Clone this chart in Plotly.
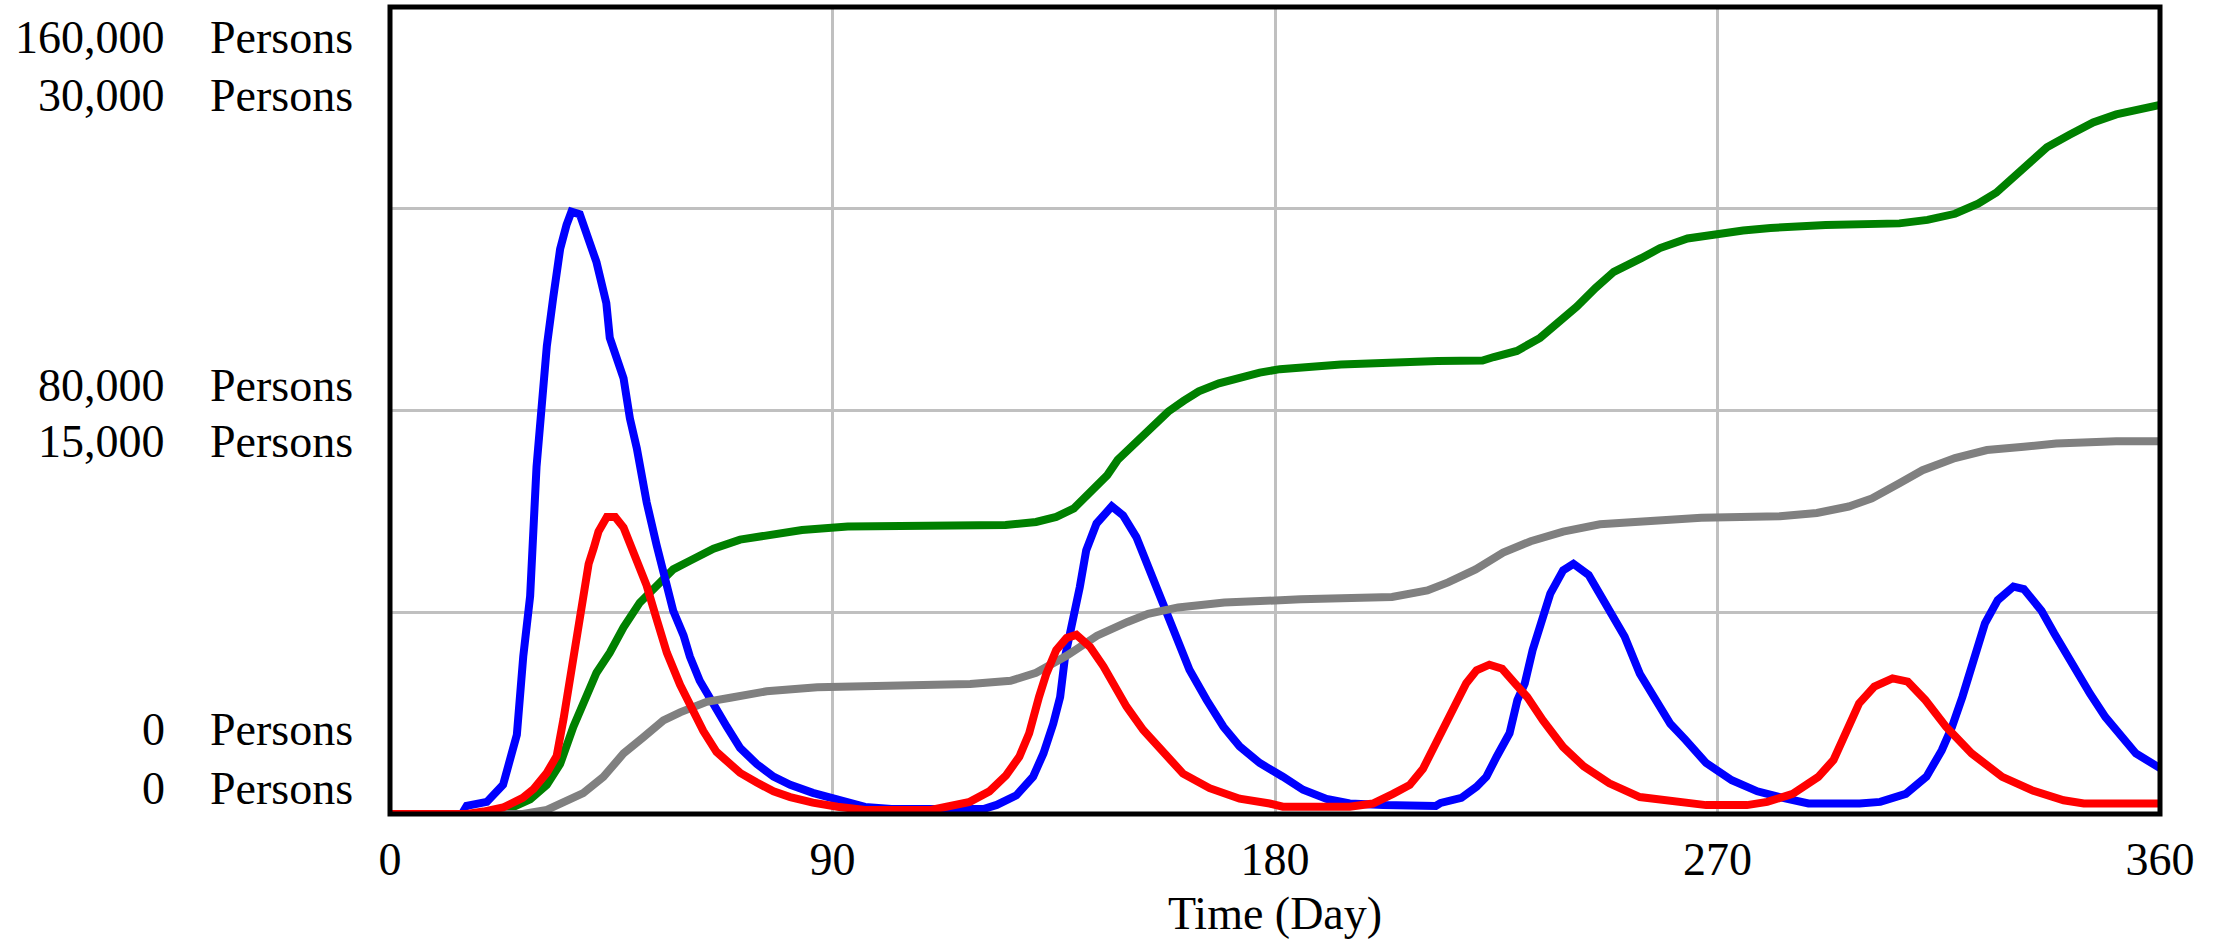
import plotly.graph_objects as go

# ---- data ----
x_ticks = [0, 90, 180, 270, 360]
x_tick_labels = ["0", "90", "180", "270", "360"]

scale_left_labels = ["160,000", "80,000", "0"]   # scale of blue / green
scale_right_labels = ["30,000", "15,000", "0"]   # scale of red / gray
unit_label = "Persons"

blue_day = [0, 14.6, 15.6, 19.7, 23, 25.8, 27.1, 28.5, 29.8, 31.2, 31.9, 33.2, 34.6, 35.9, 36.9, 38.6, 40.7, 42, 44,
            44.7, 47.5, 48.8, 50.2, 52.2, 54.2, 56.3, 57.6, 59.7, 61, 63, 65.8, 68.5, 71.2, 74.6, 78, 81.4, 86, 91,
            96.6, 102, 120.7, 123.4, 127.4, 130.8, 132.9, 134.9, 136.3, 137.3, 139, 140.3, 141.6, 143.7, 146.8,
            149.1, 151.8, 153.9, 157.3, 160.6, 162.6, 166.1, 169.5, 172.8, 176.9, 181.6, 185.7, 190.5, 195.2, 202,
            212.7, 213.7, 217.9, 221, 223, 225.1, 227.7, 229.3, 230.8, 232.4, 234, 236, 238.6, 240.7, 243.8, 245.9,
            249, 251.1, 254.2, 257.3, 260.4, 263.5, 267.7, 272.9, 278.1, 283.3, 288.5, 298.9, 303.1, 308.3, 312.5,
            315.6, 317.7, 319.8, 321.9, 324.4, 327, 330.2, 332.3, 335.9, 338.5, 341.6, 345.8, 348.9, 352, 355.1, 360]
blue_val = [0, 0, 1600, 2400, 5800, 15700, 31200, 43200, 68800, 84800, 92800, 102400, 112000, 116800, 119400, 118900,
            113600, 109400, 101300, 94400, 86400, 78400, 72500, 61800, 53400, 45300, 40300, 35400, 31200, 26400,
            21400, 17300, 13100, 9900, 7400, 5800, 4200, 2900, 1400, 1000, 1000, 1800, 3700, 7400, 12000, 17900,
            23200, 31200, 38400, 45000, 52300, 57600, 61000, 59200, 54900, 49600, 41800, 33100, 28600, 22600, 17300,
            13400, 10100, 7400, 4800, 3000, 2100, 1800, 1600, 2200, 3200, 5400, 7400, 11400, 16000, 22600, 25900,
            32500, 37800, 43700, 48300, 49600, 47400, 43700, 39000, 35200, 27800, 22600, 17900, 14700, 10100, 6700,
            4500, 3200, 2100, 2100, 2400, 4000, 7400, 12600, 17300, 23200, 29900, 37800, 42400, 45100, 44600, 40300,
            35800, 30600, 23800, 19200, 15400, 12000, 9100]

red_day = [0, 15.6, 19, 23, 27, 29.2, 31.9, 33.9, 35.3, 36.6, 38, 39.3, 40.4, 41.4, 42.4, 44.1, 45.8, 47.5, 49.5,
           52.2, 54.2, 56.3, 59, 61, 63.7, 66.4, 71.2, 74.6, 78, 81.4, 86, 91, 96.6, 110, 113.9, 117.9, 121.9, 125.3,
           128, 130, 132, 133.5, 135.5, 137.6, 139.6, 142.4, 145.1, 147.1, 149.8, 153.2, 157.3, 161.3, 166.7, 172.8,
           178.9, 181.6, 195.2, 199.9, 204, 207.4, 210.1, 212.2, 214.7, 216.8, 218.9, 221, 223.6, 226.2, 228.8,
           231.3, 234.5, 238.6, 242.8, 248, 254.2, 261.5, 267.7, 276, 280.1, 285.3, 290.5, 293.6, 295.7, 298.8,
           301.9, 305.6, 308.7, 312.3, 316.5, 321.7, 327.9, 334.1, 340.4, 344.5, 360]
red_val = [0, 0, 90, 240, 600, 930, 1530, 2160, 3540, 5100, 6630, 8190, 9300, 9870, 10500, 11040, 11040, 10650, 9720,
           8490, 7260, 6000, 4800, 4020, 3090, 2310, 1530, 1170, 840, 630, 420, 270, 150, 150, 270, 450, 840, 1440,
           2130, 3000, 4350, 5220, 6090, 6540, 6660, 6210, 5490, 4860, 3990, 3120, 2250, 1500, 960, 570, 390, 270,
           270, 390, 750, 1080, 1680, 2400, 3240, 4110, 4860, 5340, 5550, 5400, 4860, 4350, 3480, 2490, 1770, 1140,
           630, 450, 330, 330, 450, 750, 1380, 2010, 2880, 4110, 4740, 5040, 4920, 4230, 3240, 2250, 1380, 870, 510,
           390, 390]

green_day = [0, 20.3, 23.7, 28.5, 31.9, 34.6, 37.3, 40, 42, 44.7, 47.5, 50.8, 54.2, 57.6, 61, 65.8, 71.2, 78, 83.8,
             93.1, 125.2, 131.4, 135.5, 139.1, 142.8, 145.9, 148, 152.1, 155.2, 158.3, 161.4, 164.5, 168.6, 172.8,
             176.9, 181, 185.2, 193.4, 213.1, 222.2, 224.5, 229.2, 233.9, 237.7, 241.4, 245.2, 248.9, 254.5, 258.3,
             263.9, 269.5, 275.2, 280.8, 292, 307, 312.7, 318.3, 323, 326.7, 330.5, 334.2, 337, 341.7, 346.4, 351.1,
             355.8, 360]
green_val = [0, 0, 800, 2900, 5800, 9900, 17300, 23000, 28000, 32000, 37000, 41900, 45300, 48500, 50200, 52600,
             54400, 55500, 56300, 57000, 57300, 57900, 58900, 60600, 64300, 67200, 70200, 74200, 77300, 79800, 81900,
             83800, 85400, 86600, 87500, 88200, 88600, 89100, 89800, 89900, 90600, 91800, 94400, 97400, 100600,
             104300, 107500, 110200, 112200, 114100, 115000, 115700, 116200, 116800, 117100, 117800, 119000, 121000,
             123200, 126600, 129400, 132200, 134700, 137100, 138700, 139700, 140600]

gray_day = [0, 27, 31.9, 35.9, 39.3, 43.4, 47.5, 51.5, 55.6, 59, 64.4, 69.2, 76.6, 86.9, 118, 126.2, 131.4, 137.6,
            143.8, 150, 154.2, 160.3, 169.7, 185.2, 203.8, 211, 215.2, 220.8, 226.4, 232, 238.6, 246.1, 254.5, 266.7,
            282.7, 290.2, 296.7, 301.4, 307, 311.7, 318.3, 324.8, 332.3, 338.9, 351.1, 360]
gray_val = [0, 0, 150, 450, 780, 1380, 2250, 2850, 3480, 3780, 4170, 4320, 4560, 4710, 4830, 4950, 5250, 5880, 6630,
            7140, 7440, 7680, 7860, 7980, 8070, 8310, 8610, 9090, 9720, 10140, 10500, 10770, 10890, 11010, 11070,
            11190, 11430, 11730, 12300, 12780, 13230, 13530, 13650, 13770, 13860, 13860]

# ---- figure ----
FONT = "Liberation Serif, Times New Roman, serif"
LW = 8

fig = go.Figure()
fig.add_trace(go.Scatter(x=gray_day, y=gray_val, mode="lines", yaxis="y2",
                         line=dict(color="#808080", width=LW)))
fig.add_trace(go.Scatter(x=green_day, y=green_val, mode="lines", yaxis="y",
                         line=dict(color="#008000", width=LW)))
fig.add_trace(go.Scatter(x=red_day, y=red_val, mode="lines", yaxis="y2",
                         line=dict(color="#ff0000", width=LW)))
fig.add_trace(go.Scatter(x=blue_day, y=blue_val, mode="lines", yaxis="y",
                         line=dict(color="#0000ff", width=LW)))

fig.update_layout(
    width=2223, height=941,
    margin=dict(l=390, r=63, t=7, b=127),
    paper_bgcolor="white", plot_bgcolor="white",
    showlegend=False,
    font=dict(family=FONT, size=46, color="black"),
    xaxis=dict(range=[0, 360], tickvals=x_ticks, ticktext=x_tick_labels,
               showgrid=True, gridcolor="#c0c0c0", gridwidth=2.5,
               zeroline=False, showline=False, ticks="", ticklabelstandoff=14,
               tickfont=dict(family=FONT, size=46, color="black"),
               title=dict(text="Time (Day)", font=dict(family=FONT, size=46, color="black"), standoff=12)),
    yaxis=dict(range=[0, 160000], tickvals=[0, 40000, 80000, 120000, 160000],
               showgrid=True, gridcolor="#c0c0c0", gridwidth=2.5,
               zeroline=False, showline=False, showticklabels=False, ticks=""),
    yaxis2=dict(range=[0, 30000], overlaying="y", side="left",
                showgrid=False, zeroline=False, showline=False, showticklabels=False, ticks=""),
)

# plot frame
fig.add_shape(type="rect", xref="paper", yref="paper", x0=0, y0=0, x1=1, y1=1,
              line=dict(color="black", width=5), fillcolor="rgba(0,0,0,0)", layer="above")

# stacked scale labels (Vensim style)
label_rows = [0.9628, 0.8900, 0.5304, 0.4622, 0.1041, 0.0322]
label_texts = [scale_left_labels[0], scale_right_labels[0],
               scale_left_labels[1], scale_right_labels[1],
               scale_left_labels[2], scale_right_labels[2]]
for yy, txt in zip(label_rows, label_texts):
    fig.add_annotation(xref="paper", yref="paper", x=-0.126, y=yy, text=txt, showarrow=False,
                       xanchor="right", yanchor="middle", font=dict(family=FONT, size=46, color="black"))
    fig.add_annotation(xref="paper", yref="paper", x=-0.1028, y=yy, text=unit_label, showarrow=False,
                       xanchor="left", yanchor="middle", font=dict(family=FONT, size=46, color="black"))

fig.write_html("out.html")
